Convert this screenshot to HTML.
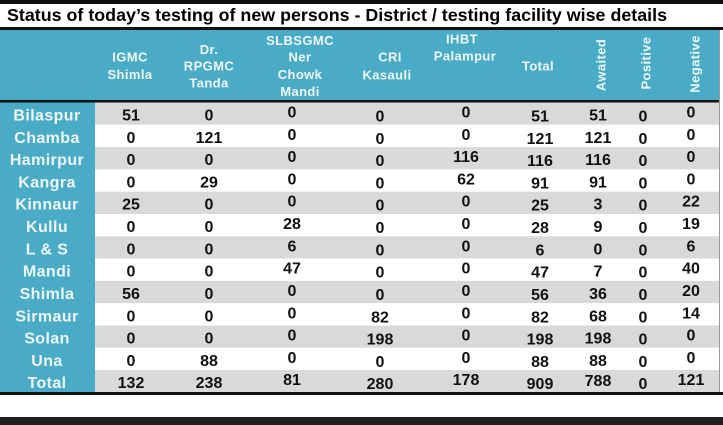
<!DOCTYPE html>
<html>
<head>
<meta charset="utf-8">
<style>
  html,body{margin:0;padding:0;background:#fff;}
  body{width:723px;height:425px;overflow:hidden;position:relative;}
  svg{position:absolute;left:0;top:0;display:block;}
  .t{font-family:"Liberation Sans",Arial,sans-serif;font-weight:bold;}
  .h{fill:#eef7fa;font-size:13px;letter-spacing:0.4px;text-anchor:middle;}
  .r{fill:#eef7fa;font-size:16px;letter-spacing:0.4px;text-anchor:middle;}
  .d{fill:#111;font-size:16px;text-anchor:middle;}
</style>
</head>
<body>
<svg width="723" height="425" viewBox="0 0 723 425" xmlns="http://www.w3.org/2000/svg">
  <!-- top black bar -->
  <rect x="0" y="0" width="723" height="4" fill="#111"/>
  <!-- title area -->
  <rect x="0" y="4" width="723" height="23" fill="#fff"/>
  <text class="t" x="7" y="21" font-size="17.5" fill="#000" textLength="660" lengthAdjust="spacingAndGlyphs">Status of today’s testing of new persons - District / testing facility wise details</text>
  <rect x="0" y="27" width="723" height="3" fill="#111"/>
  <!-- header -->
  <rect x="0" y="30" width="720" height="70" fill="#4aabc7"/>
  <rect x="0" y="100" width="720" height="2.5" fill="#111"/>

  <!-- left label column -->
  <rect x="0" y="102.5" width="95" height="290" fill="#4aabc7"/>
  <!-- body rows -->
  <rect x="95" y="102.5" width="625" height="22.3" fill="#d9d9d9"/>
  <rect x="95" y="124.8" width="625" height="22.3" fill="#ffffff"/>
  <rect x="95" y="147.1" width="625" height="22.3" fill="#d9d9d9"/>
  <rect x="95" y="169.4" width="625" height="22.3" fill="#ffffff"/>
  <rect x="95" y="191.7" width="625" height="22.3" fill="#d9d9d9"/>
  <rect x="95" y="214.0" width="625" height="22.3" fill="#ffffff"/>
  <rect x="95" y="236.3" width="625" height="22.3" fill="#d9d9d9"/>
  <rect x="95" y="258.6" width="625" height="22.3" fill="#ffffff"/>
  <rect x="95" y="280.9" width="625" height="22.3" fill="#d9d9d9"/>
  <rect x="95" y="303.2" width="625" height="22.3" fill="#ffffff"/>
  <rect x="95" y="325.5" width="625" height="22.3" fill="#d9d9d9"/>
  <rect x="95" y="347.8" width="625" height="22.3" fill="#ffffff"/>
  <rect x="95" y="370.1" width="625" height="22.3" fill="#d9d9d9"/>
  <rect x="719" y="30" width="1" height="362" fill="#9a9a9a"/>

  <!-- bottom -->
  <rect x="0" y="392" width="723" height="3" fill="#111"/>
  <rect x="0" y="395" width="723" height="22" fill="#fff"/>
  <rect x="0" y="417" width="723" height="8" fill="#1f1f1f"/>

  <!-- header labels -->
  <g class="t">
    <text class="h" x="130" y="61.7">IGMC</text>
    <text class="h" x="130" y="79">Shimla</text>
    <text class="h" x="209" y="54">Dr.</text>
    <text class="h" x="209" y="70.7">RPGMC</text>
    <text class="h" x="209" y="87.3">Tanda</text>
    <text class="h" x="300" y="45">SLBSGMC</text>
    <text class="h" x="300" y="61.7">Ner</text>
    <text class="h" x="300" y="79">Chowk</text>
    <text class="h" x="300" y="96">Mandi</text>
    <text class="h" x="390" y="61.7">CRI</text>
    <text class="h" x="387" y="79.3">Kasauli</text>
    <text class="h" x="462" y="43.3">IHBT</text>
    <text class="h" x="465" y="60.5">Palampur</text>
    <text class="h" x="538" y="70.7">Total</text>
    <text class="h" transform="translate(605.5,65) rotate(-90)">Awaited</text>
    <text class="h" transform="translate(650.5,63) rotate(-90)">Positive</text>
    <text class="h" transform="translate(699.5,64) rotate(-90)">Negative</text>
  </g>

  <!-- row labels -->
  <g class="t">
    <text class="r" x="47" y="120.5">Bilaspur</text>
    <text class="r" x="47" y="142.8">Chamba</text>
    <text class="r" x="47" y="165.1">Hamirpur</text>
    <text class="r" x="47" y="187.4">Kangra</text>
    <text class="r" x="47" y="209.7">Kinnaur</text>
    <text class="r" x="47" y="232.0">Kullu</text>
    <text class="r" x="47" y="254.3">L &amp; S</text>
    <text class="r" x="47" y="276.7">Mandi</text>
    <text class="r" x="47" y="299.0">Shimla</text>
    <text class="r" x="47" y="321.3">Sirmaur</text>
    <text class="r" x="47" y="343.6">Solan</text>
    <text class="r" x="47" y="365.9">Una</text>
    <text class="r" x="47" y="388.2">Total</text>
  </g>

  <!-- data -->
  <g class="t">
    <!-- Bilaspur -->
    <text class="d" x="131" y="120.5">51</text><text class="d" x="209" y="120.5">0</text><text class="d" x="292" y="117.5">0</text><text class="d" x="380" y="121.5">0</text><text class="d" x="466" y="117.5">0</text><text class="d" x="540" y="121.5">51</text><text class="d" x="598" y="120.5">51</text><text class="d" x="643" y="121.5">0</text><text class="d" x="691" y="117.5">0</text>
    <!-- Chamba -->
    <text class="d" x="131" y="142.8">0</text><text class="d" x="209" y="142.8">121</text><text class="d" x="292" y="139.8">0</text><text class="d" x="380" y="143.8">0</text><text class="d" x="466" y="139.8">0</text><text class="d" x="540" y="143.8">121</text><text class="d" x="598" y="142.8">121</text><text class="d" x="643" y="143.8">0</text><text class="d" x="691" y="139.8">0</text>
    <!-- Hamirpur -->
    <text class="d" x="131" y="165.1">0</text><text class="d" x="209" y="165.1">0</text><text class="d" x="292" y="162.1">0</text><text class="d" x="380" y="166.1">0</text><text class="d" x="466" y="162.1">116</text><text class="d" x="540" y="166.1">116</text><text class="d" x="598" y="165.1">116</text><text class="d" x="643" y="166.1">0</text><text class="d" x="691" y="162.1">0</text>
    <!-- Kangra -->
    <text class="d" x="131" y="187.4">0</text><text class="d" x="209" y="187.4">29</text><text class="d" x="292" y="184.4">0</text><text class="d" x="380" y="188.4">0</text><text class="d" x="466" y="184.4">62</text><text class="d" x="540" y="188.4">91</text><text class="d" x="598" y="187.4">91</text><text class="d" x="643" y="188.4">0</text><text class="d" x="691" y="184.4">0</text>
    <!-- Kinnaur -->
    <text class="d" x="131" y="209.7">25</text><text class="d" x="209" y="209.7">0</text><text class="d" x="292" y="206.7">0</text><text class="d" x="380" y="210.7">0</text><text class="d" x="466" y="206.7">0</text><text class="d" x="540" y="210.7">25</text><text class="d" x="598" y="209.7">3</text><text class="d" x="643" y="210.7">0</text><text class="d" x="691" y="206.7">22</text>
    <!-- Kullu -->
    <text class="d" x="131" y="232.0">0</text><text class="d" x="209" y="232.0">0</text><text class="d" x="292" y="229.0">28</text><text class="d" x="380" y="233.0">0</text><text class="d" x="466" y="229.0">0</text><text class="d" x="540" y="233.0">28</text><text class="d" x="598" y="232.0">9</text><text class="d" x="643" y="233.0">0</text><text class="d" x="691" y="229.0">19</text>
    <!-- L & S -->
    <text class="d" x="131" y="254.3">0</text><text class="d" x="209" y="254.3">0</text><text class="d" x="292" y="251.3">6</text><text class="d" x="380" y="255.3">0</text><text class="d" x="466" y="251.3">0</text><text class="d" x="540" y="255.3">6</text><text class="d" x="598" y="254.3">0</text><text class="d" x="643" y="255.3">0</text><text class="d" x="691" y="251.3">6</text>
    <!-- Mandi -->
    <text class="d" x="131" y="276.7">0</text><text class="d" x="209" y="276.7">0</text><text class="d" x="292" y="273.7">47</text><text class="d" x="380" y="277.7">0</text><text class="d" x="466" y="273.7">0</text><text class="d" x="540" y="277.7">47</text><text class="d" x="598" y="276.7">7</text><text class="d" x="643" y="277.7">0</text><text class="d" x="691" y="273.7">40</text>
    <!-- Shimla -->
    <text class="d" x="131" y="299.0">56</text><text class="d" x="209" y="299.0">0</text><text class="d" x="292" y="296.0">0</text><text class="d" x="380" y="300.0">0</text><text class="d" x="466" y="296.0">0</text><text class="d" x="540" y="300.0">56</text><text class="d" x="598" y="299.0">36</text><text class="d" x="643" y="300.0">0</text><text class="d" x="691" y="296.0">20</text>
    <!-- Sirmaur -->
    <text class="d" x="131" y="321.3">0</text><text class="d" x="209" y="321.3">0</text><text class="d" x="292" y="318.3">0</text><text class="d" x="380" y="322.3">82</text><text class="d" x="466" y="318.3">0</text><text class="d" x="540" y="322.3">82</text><text class="d" x="598" y="321.3">68</text><text class="d" x="643" y="322.3">0</text><text class="d" x="691" y="318.3">14</text>
    <!-- Solan -->
    <text class="d" x="131" y="343.6">0</text><text class="d" x="209" y="343.6">0</text><text class="d" x="292" y="340.6">0</text><text class="d" x="380" y="344.6">198</text><text class="d" x="466" y="340.6">0</text><text class="d" x="540" y="344.6">198</text><text class="d" x="598" y="343.6">198</text><text class="d" x="643" y="344.6">0</text><text class="d" x="691" y="340.6">0</text>
    <!-- Una -->
    <text class="d" x="131" y="365.9">0</text><text class="d" x="209" y="365.9">88</text><text class="d" x="292" y="362.9">0</text><text class="d" x="380" y="366.9">0</text><text class="d" x="466" y="362.9">0</text><text class="d" x="540" y="366.9">88</text><text class="d" x="598" y="365.9">88</text><text class="d" x="643" y="366.9">0</text><text class="d" x="691" y="362.9">0</text>
    <!-- Total -->
    <text class="d" x="131" y="388.2">132</text><text class="d" x="209" y="388.2">238</text><text class="d" x="292" y="385.2">81</text><text class="d" x="380" y="389.2">280</text><text class="d" x="466" y="385.2">178</text><text class="d" x="540" y="389.2">909</text><text class="d" x="598" y="386.2">788</text><text class="d" x="643" y="389.2">0</text><text class="d" x="691" y="385.2">121</text>
  </g>
</svg>
</body>
</html>
